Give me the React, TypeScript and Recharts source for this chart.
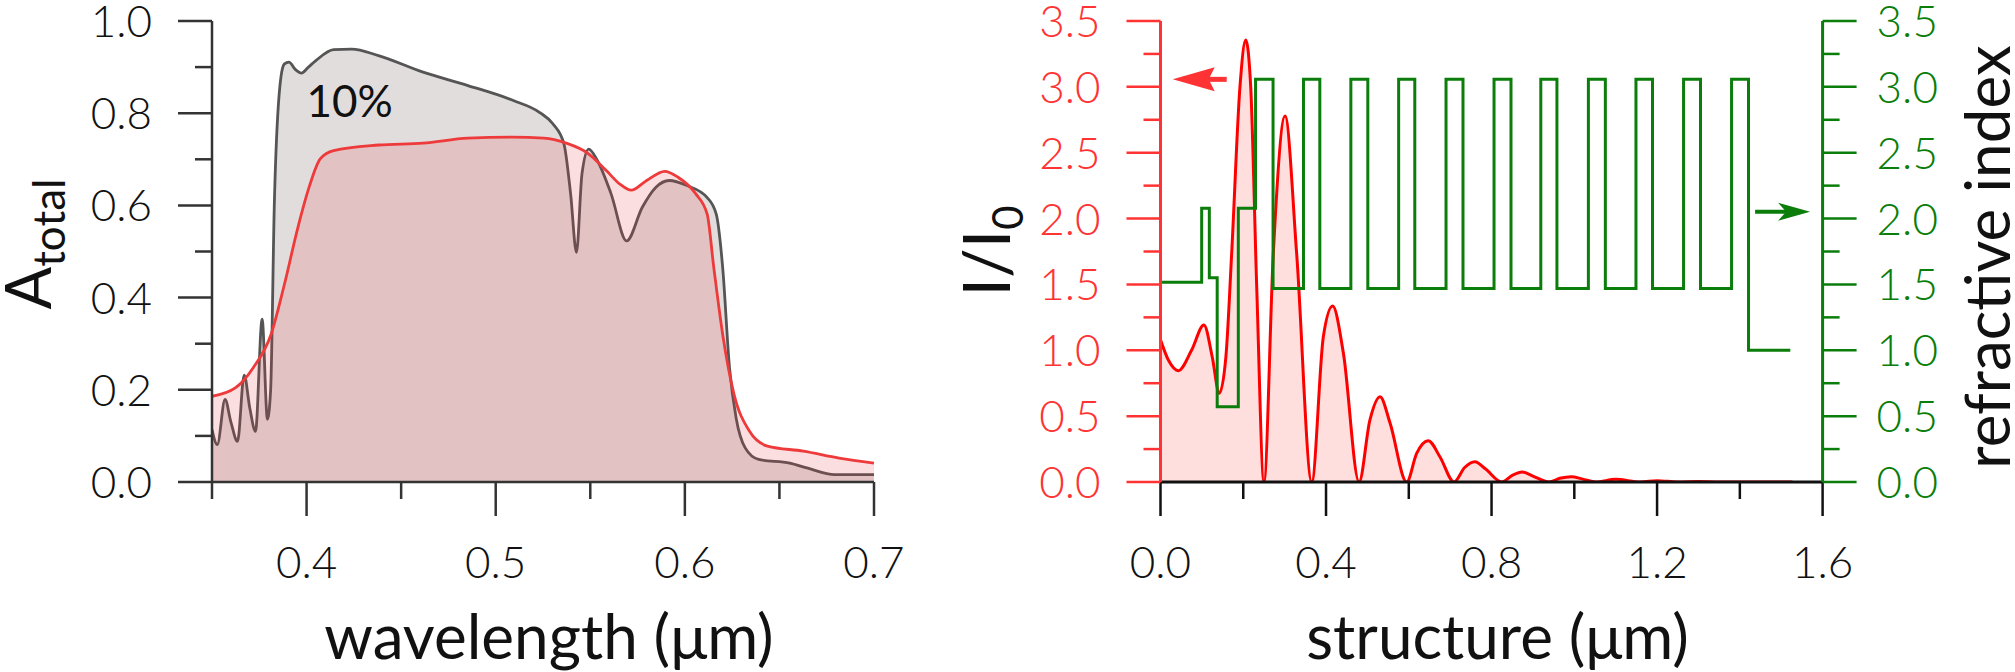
import { ComposedChart, Area, Line, XAxis, YAxis, ReferenceDot } from 'recharts'

const FONT = 'Lato, "Open Sans", sans-serif'

// left panel: total absorption vs wavelength (um)
const grayWl = [0.35, 0.3528, 0.3569, 0.36, 0.3635, 0.367, 0.37, 0.373, 0.3765, 0.3793, 0.381, 0.383, 0.3865, 0.3883, 0.3907, 0.394, 0.3973, 0.401, 0.4049, 0.4143, 0.4238, 0.438, 0.4616, 0.4853, 0.509, 0.5231, 0.5302, 0.5361, 0.5396, 0.5427, 0.5456, 0.5491, 0.5538, 0.561, 0.5692, 0.5775, 0.5846, 0.5917, 0.6011, 0.6118, 0.6166, 0.62, 0.6236, 0.6271, 0.6319, 0.639, 0.6555, 0.665, 0.6792, 0.7]
const grayAbs = [0.114, 0.081, 0.179, 0.13, 0.088, 0.232, 0.16, 0.11, 0.353, 0.136, 0.2, 0.61, 0.88, 0.907, 0.911, 0.895, 0.887, 0.9, 0.914, 0.938, 0.939, 0.925, 0.889, 0.86, 0.828, 0.802, 0.777, 0.733, 0.625, 0.498, 0.668, 0.722, 0.697, 0.625, 0.523, 0.596, 0.639, 0.654, 0.643, 0.617, 0.581, 0.465, 0.248, 0.139, 0.074, 0.049, 0.041, 0.03, 0.016, 0.016]
const redWl = [0.35, 0.3623, 0.3718, 0.3812, 0.3883, 0.3954, 0.4013, 0.4072, 0.4143, 0.438, 0.4616, 0.4853, 0.509, 0.5255, 0.5373, 0.5491, 0.5586, 0.5657, 0.5716, 0.5798, 0.5893, 0.5964, 0.6058, 0.6118, 0.6153, 0.62, 0.626, 0.6342, 0.6437, 0.6626, 0.6815, 0.7]
const redAbs = [0.186, 0.204, 0.248, 0.32, 0.429, 0.552, 0.639, 0.701, 0.719, 0.731, 0.735, 0.746, 0.748, 0.746, 0.735, 0.712, 0.675, 0.646, 0.633, 0.654, 0.674, 0.661, 0.625, 0.581, 0.465, 0.32, 0.19, 0.11, 0.078, 0.067, 0.052, 0.041]

// right panel: field intensity and refractive index vs position (um)
const fieldX = [0, 0.02, 0.043, 0.075, 0.105, 0.125, 0.142, 0.158, 0.172, 0.192, 0.206, 0.218, 0.2325, 0.25, 0.2726, 0.301, 0.329, 0.3655, 0.3935, 0.416, 0.442, 0.4798, 0.506, 0.5305, 0.5547, 0.595, 0.619, 0.647, 0.6755, 0.7094, 0.735, 0.76, 0.785, 0.8247, 0.85, 0.874, 0.9, 0.939, 0.965, 0.993, 1.02, 1.052, 1.1, 1.16, 1.2, 1.25, 1.3, 1.35, 1.527]
const fieldI = [1.08, 0.92, 0.845, 1.0, 1.192, 0.95, 0.673, 0.95, 1.736, 3.0, 3.356, 3.0, 1.483, 0, 1.736, 2.779, 1.736, 0, 1.103, 1.336, 0.977, 0, 0.47, 0.648, 0.448, 0, 0.218, 0.314, 0.19, 0, 0.11, 0.154, 0.1, 0, 0.05, 0.076, 0.045, 0, 0.028, 0.04, 0.022, 0, 0.02, 0, 0.01, 0, 0.004, 0, 0]
const layerX = [0, 0.0995, 0.118, 0.137, 0.188, 0.2297, 0.272, 0.3455, 0.385, 0.46, 0.501, 0.5755, 0.6145, 0.69, 0.731, 0.806, 0.847, 0.919, 0.958, 1.034, 1.075, 1.149, 1.189, 1.264, 1.305, 1.38, 1.421, 1.522]
const layerN = [1.516, 2.078, 1.551, 0.572, 2.078, 3.057, 1.47, 3.057, 1.47, 3.057, 1.47, 3.057, 1.47, 3.057, 1.47, 3.057, 1.47, 3.057, 1.47, 3.057, 1.47, 3.057, 1.47, 3.057, 1.47, 3.057, 1.0, 1.0]

const wlTicks = [0.35, 0.4, 0.45, 0.5, 0.55, 0.6, 0.65, 0.7]
const wlLabels = [0.4, 0.5, 0.6, 0.7]
const absTicks = [0, 0.1, 0.2, 0.3, 0.4, 0.5, 0.6, 0.7, 0.8, 0.9, 1.0]
const absLabels = [0, 0.2, 0.4, 0.6, 0.8, 1.0]
const posTicks = [0, 0.2, 0.4, 0.6, 0.8, 1.0, 1.2, 1.4, 1.6]
const posLabels = [0, 0.4, 0.8, 1.2, 1.6]
const sideTicks = [0, 0.25, 0.5, 0.75, 1, 1.25, 1.5, 1.75, 2, 2.25, 2.5, 2.75, 3, 3.25, 3.5]
const sideLabels = [0, 0.5, 1, 1.5, 2, 2.5, 3, 3.5]

const zip = (xs: number[], ys: number[], key: string) => xs.map((x, i) => ({ x, [key]: ys[i] }))

const grayData = zip(grayWl, grayAbs, 'a')
const redData = zip(redWl, redAbs, 'a')
const fieldData = zip(fieldX, fieldI, 'i')
const layerData = zip(layerX, layerN, 'n')

const has = (arr: number[], v: number) => arr.some((a) => Math.abs(a - v) < 1e-6)

// ticks drawn by hand so minor ticks come out shorter than major ones
function makeTick(side: 'left' | 'right' | 'bottom', labels: number[], color: string, textColor: string, digits: number) {
    return (props: any) => {
        const { x, y, payload } = props
        const v = payload.value
        const major = has(labels, v)
        const len = major ? 34 : 17
        const txt = major ? (
            side === 'bottom' ? (
                <text x={x} y={y + 96} textAnchor="middle" fill={textColor} fontSize={44} fontFamily={FONT} fontWeight={300}>
                    {v.toFixed(digits)}
                </text>
            ) : (
                <text
                    x={side === 'left' ? x - 60 : x + 54}
                    y={y + 16}
                    textAnchor={side === 'left' ? 'end' : 'start'}
                    fill={textColor}
                    fontSize={44}
                    fontFamily={FONT}
                    fontWeight={300}
                >
                    {v.toFixed(digits)}
                </text>
            )
        ) : null
        let line
        if (side === 'bottom') line = <line x1={x} x2={x} y1={y} y2={y + len} stroke={color} strokeWidth={2.5} />
        else if (side === 'left') line = <line x1={x - len} x2={x} y1={y} y2={y} stroke={color} strokeWidth={2.5} />
        else line = <line x1={x} x2={x + len} y1={y} y2={y} stroke={color} strokeWidth={2.5} />
        return (
            <g>
                {line}
                {txt}
            </g>
        )
    }
}

const RedArrow = (p: any) => (
    <g>
        <line x1={p.cx + 30} x2={p.cx + 54} y1={p.cy} y2={p.cy} stroke="#ff3333" strokeWidth={5} />
        <polygon points={`${p.cx},${p.cy} ${p.cx + 42},${p.cy - 12} ${p.cx + 36},${p.cy} ${p.cx + 42},${p.cy + 12}`} fill="#ff3333" />
    </g>
)

const GreenArrow = (p: any) => (
    <g>
        <line x1={p.cx - 55} x2={p.cx - 20} y1={p.cy} y2={p.cy} stroke="#0a7d0a" strokeWidth={4} />
        <polygon points={`${p.cx},${p.cy} ${p.cx - 32},${p.cy - 9} ${p.cx - 24},${p.cy} ${p.cx - 32},${p.cy + 9}`} fill="#0a7d0a" />
    </g>
)

const TenPct = (p: any) => (
    <text x={p.cx} y={p.cy} textAnchor="middle" fontSize={44} fontFamily={FONT} fill="#111">
        10%
    </text>
)

export default function App() {
    const dark = '#333'
    return (
        <div style={{ position: 'absolute', left: 0, top: 0, width: 2015, height: 672, background: '#fff' }}>
            <div style={{ position: 'absolute', left: 0, top: 0 }}>
                <ComposedChart width={930} height={672} margin={{ top: 21, right: 56, bottom: 0, left: 0 }}>
                    <XAxis
                        xAxisId="b"
                        dataKey="x"
                        type="number"
                        domain={[0.35, 0.7]}
                        allowDataOverflow
                        ticks={wlTicks}
                        interval={0}
                        height={190}
                        tickSize={0}
                        tickMargin={0}
                        tickLine={false}
                        axisLine={{ stroke: dark, strokeWidth: 2.5 }}
                        tick={makeTick('bottom', wlLabels, dark, '#111', 1)}
                        label={(p: any) => (
                            <text x={p.viewBox.x + p.viewBox.width / 2 + 6} y={p.viewBox.y + 177} textAnchor="middle" fontSize={62} fontFamily={FONT} fill="#111">
                                wavelength (μm)
                            </text>
                        )}
                    />
                    <XAxis xAxisId="t" orientation="top" type="number" domain={[0.35, 0.7]} height={0} tick={false} tickLine={false} axisLine={{ stroke: dark, strokeWidth: 2.5 }} />
                    <YAxis
                        yAxisId="l"
                        type="number"
                        domain={[0, 1]}
                        allowDataOverflow
                        ticks={absTicks}
                        interval={0}
                        width={212}
                        tickSize={0}
                        tickMargin={0}
                        tickLine={false}
                        axisLine={{ stroke: dark, strokeWidth: 2.5 }}
                        tick={makeTick('left', absLabels, dark, '#111', 1)}
                        label={() => (
                            <text transform={`translate(51,244) rotate(-90)`} textAnchor="middle" fontSize={63} fontFamily={FONT} fill="#111">
                                A<tspan fontSize={44} dy={14}>total</tspan>
                            </text>
                        )}
                    />
                    <YAxis yAxisId="r" orientation="right" type="number" domain={[0, 1]} width={0} tick={false} tickLine={false} axisLine={{ stroke: dark, strokeWidth: 2.5 }} />
                    <Area
                        xAxisId="b"
                        yAxisId="l"
                        data={grayData}
                        dataKey="a"
                        type="monotone"
                        stroke="#555"
                        strokeWidth={2.8}
                        fill="#a08d8f"
                        fillOpacity={0.3}
                        dot={false}
                        activeDot={false}
                        isAnimationActive={false}
                    />
                    <Area
                        xAxisId="b"
                        yAxisId="l"
                        data={redData}
                        dataKey="a"
                        type="monotone"
                        stroke="#ee3a3a"
                        strokeWidth={2.8}
                        fill="#e8393c"
                        fillOpacity={0.16}
                        dot={false}
                        activeDot={false}
                        isAnimationActive={false}
                    />
                    <ReferenceDot xAxisId="b" yAxisId="l" x={0.4228} y={0.792} r={0} shape={TenPct} />
                </ComposedChart>
            </div>
            <div style={{ position: 'absolute', left: 900, top: 0 }}>
                <ComposedChart width={1115} height={672} margin={{ top: 21, right: 0, bottom: 0, left: 0 }}>
                    <XAxis
                        xAxisId="b"
                        dataKey="x"
                        type="number"
                        domain={[0, 1.6]}
                        allowDataOverflow
                        ticks={posTicks}
                        interval={0}
                        height={190}
                        tickSize={0}
                        tickMargin={0}
                        tickLine={false}
                        axisLine={{ stroke: '#111', strokeWidth: 3 }}
                        tick={makeTick('bottom', posLabels, '#111', '#111', 1)}
                        label={(p: any) => (
                            <text x={p.viewBox.x + p.viewBox.width / 2 + 6} y={p.viewBox.y + 177} textAnchor="middle" fontSize={62} fontFamily={FONT} fill="#111">
                                structure (μm)
                            </text>
                        )}
                    />
                    <XAxis xAxisId="t" orientation="top" type="number" domain={[0, 1.6]} height={0} tick={false} tickLine={false} axisLine={{ stroke: '#111', strokeWidth: 3 }} />
                    <YAxis
                        yAxisId="i"
                        type="number"
                        domain={[0, 3.5]}
                        allowDataOverflow
                        ticks={sideTicks}
                        interval={0}
                        width={260.5}
                        tickSize={0}
                        tickMargin={0}
                        tickLine={false}
                        axisLine={{ stroke: '#ff3333', strokeWidth: 3 }}
                        tick={makeTick('left', sideLabels, '#ff3333', '#ff3333', 1)}
                        label={() => (
                            <text transform={`translate(110,251) rotate(-90)`} textAnchor="middle" fontSize={66} fontFamily={FONT} fill="#111">
                                I/I<tspan fontSize={42} dy={13}>0</tspan>
                            </text>
                        )}
                    />
                    <YAxis
                        yAxisId="n"
                        orientation="right"
                        type="number"
                        domain={[0, 3.5]}
                        allowDataOverflow
                        ticks={sideTicks}
                        interval={0}
                        width={192.4}
                        tickSize={0}
                        tickMargin={0}
                        tickLine={false}
                        axisLine={{ stroke: '#0a7d0a', strokeWidth: 3 }}
                        tick={makeTick('right', sideLabels, '#0a7d0a', '#0a7d0a', 1)}
                        label={() => (
                            <text transform={`translate(1110,257) rotate(-90)`} textAnchor="middle" fontSize={62} fontFamily={FONT} fill="#111">
                                refractive index
                            </text>
                        )}
                    />
                    <Line
                        xAxisId="b"
                        yAxisId="n"
                        data={layerData}
                        dataKey="n"
                        type="stepAfter"
                        stroke="#0a7d0a"
                        strokeWidth={3}
                        dot={false}
                        activeDot={false}
                        isAnimationActive={false}
                    />
                    <Area
                        xAxisId="b"
                        yAxisId="i"
                        data={fieldData}
                        dataKey="i"
                        type="monotone"
                        stroke="#ff0000"
                        strokeWidth={3}
                        fill="#ff0000"
                        fillOpacity={0.13}
                        dot={false}
                        activeDot={false}
                        isAnimationActive={false}
                    />
                    <ReferenceDot xAxisId="b" yAxisId="i" x={0.0295} y={3.057} r={0} shape={RedArrow} />
                    <ReferenceDot xAxisId="b" yAxisId="n" x={1.5698} y={2.052} r={0} shape={GreenArrow} />
                </ComposedChart>
            </div>
        </div>
    )
}
